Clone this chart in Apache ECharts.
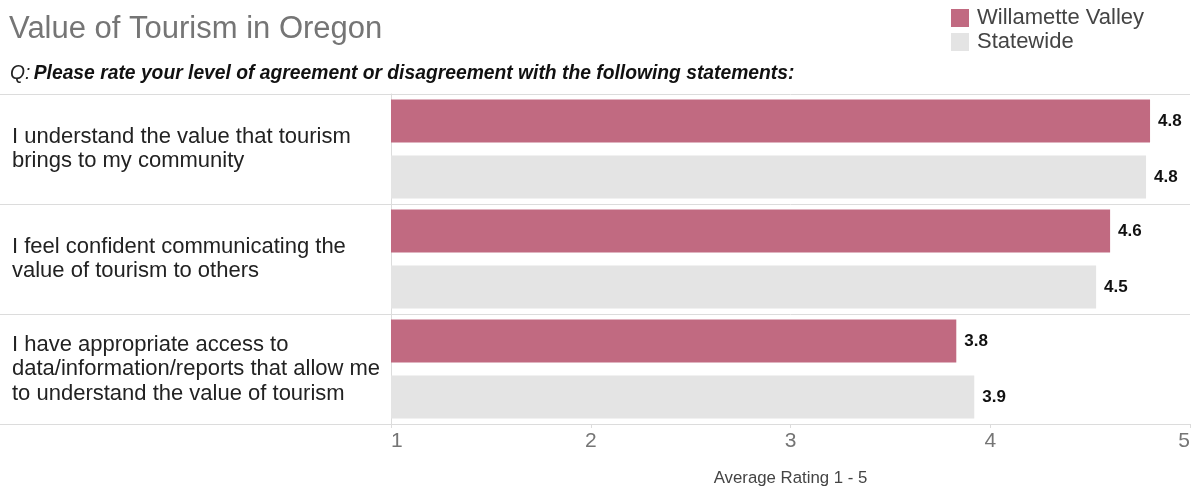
<!DOCTYPE html>
<html>
<head>
<meta charset="utf-8">
<style>
  html, body { margin: 0; padding: 0; background: #ffffff; }
  #chart { width: 1195px; height: 489px; }
</style>
<script src="https://cdn.jsdelivr.net/npm/echarts@6/dist/echarts.min.js"></script>
</head>
<body>
<div id="chart"></div>
<script>
// Survey statements (one category per row)
const statements = [
  'I understand the value that tourism\nbrings to my community',
  'I feel confident communicating the\nvalue of tourism to others',
  'I have appropriate access to\ndata/information/reports that allow me\nto understand the value of tourism'
];
// Average rating on a 1-5 scale
const willametteValley = [4.8, 4.6, 3.83];
const statewide = [4.78, 4.53, 3.92];
const ratingTicks = [1, 2, 3, 4, 5];

const FONT = '"Liberation Sans", Arial, sans-serif';
const PINK = '#c16a81';
const GREY = '#e4e4e4';
const RULE = '#dcdcdc';

const valueLabel = {
  show: true,
  position: 'right',
  distance: 8,
  formatter: p => p.value.toFixed(1),
  color: '#111',
  fontFamily: FONT,
  fontWeight: 'bold',
  fontSize: 17
};

const chart = echarts.init(document.getElementById('chart'), null, { renderer: 'canvas' });

chart.setOption({
  animation: false,
  textStyle: { fontFamily: FONT },
  title: {
    text: 'Value of Tourism in Oregon',
    left: 4, top: 9,
    textStyle: { color: '#757575', fontSize: 31, fontWeight: 'normal', fontFamily: FONT }
  },
  graphic: [{
    type: 'text',
    left: 10, top: 64,
    style: {
      text: '{q|Q:} {b|Please rate your level of agreement or disagreement with the following statements:}',
      rich: {
        q: { fontFamily: FONT, fontSize: 19.3, fontStyle: 'italic', fill: '#222' },
        b: { fontFamily: FONT, fontSize: 19.3, fontStyle: 'italic', fontWeight: 'bold', fill: '#111' }
      }
    }
  }],
  legend: {
    orient: 'vertical',
    left: 946, top: 2,
    itemWidth: 18, itemHeight: 18, itemGap: 2,
    icon: 'rect',
    textStyle: { color: '#444', fontSize: 22, fontFamily: FONT, padding: [0, 0, 0, 3] },
    data: ['Willamette Valley', 'Statewide']
  },
  grid: [
    { left: 391, right: 5, top: 94, bottom: 65, outerBoundsMode: 'none', containLabel: false },
    { left: 0, width: 391, top: 94, bottom: 65, outerBoundsMode: 'none', containLabel: false }
  ],
  xAxis: [{
    gridIndex: 0,
    type: 'value',
    min: ratingTicks[0],
    max: ratingTicks[ratingTicks.length - 1],
    interval: 1,
    axisLine: { show: true, lineStyle: { color: RULE, width: 1 } },
    axisTick: { show: true, length: 4, lineStyle: { color: RULE } },
    splitLine: { show: false },
    axisLabel: {
      color: '#757575', fontSize: 21, fontFamily: FONT, margin: 7,
      alignMinLabel: 'left', alignMaxLabel: 'right'
    },
    name: 'Average Rating 1 - 5',
    nameLocation: 'middle',
    nameGap: 46,
    nameTextStyle: { color: '#444', fontSize: 16.8, fontFamily: FONT }
  }, {
    gridIndex: 1,
    type: 'value',
    show: false
  }],
  yAxis: [{
    gridIndex: 0,
    type: 'category',
    inverse: true,
    data: statements,
    axisLine: { show: true, lineStyle: { color: RULE, width: 1 } },
    axisTick: { show: false },
    splitLine: { show: true, lineStyle: { color: RULE, width: 1 } },
    axisLabel: {
      align: 'left',
      margin: 379,
      color: '#222',
      fontSize: 22,
      lineHeight: 24.5,
      fontFamily: FONT
    }
  }, {
    gridIndex: 1,
    type: 'category',
    inverse: true,
    data: statements,
    axisLine: { show: false },
    axisTick: { show: false },
    axisLabel: { show: false },
    splitLine: { show: true, lineStyle: { color: RULE, width: 1 } }
  }],
  series: [{
    name: 'Willamette Valley',
    type: 'bar',
    xAxisIndex: 0, yAxisIndex: 0,
    data: willametteValley,
    barWidth: 43,
    barGap: '30%',
    itemStyle: { color: PINK },
    label: valueLabel
  }, {
    name: 'Statewide',
    type: 'bar',
    xAxisIndex: 0, yAxisIndex: 0,
    data: statewide,
    barWidth: 43,
    barGap: '30%',
    itemStyle: { color: GREY },
    label: valueLabel
  }]
});
</script>
</body>
</html>
